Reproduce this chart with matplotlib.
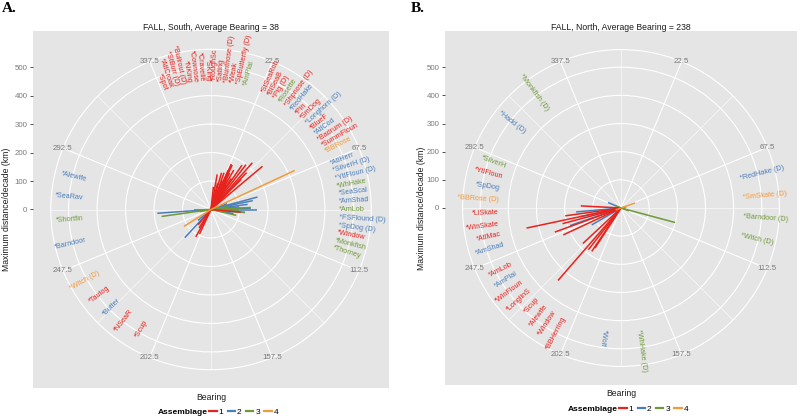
import numpy as np
import matplotlib
matplotlib.use('Agg')
import matplotlib.pyplot as plt
from matplotlib.lines import Line2D

plt.rcParams['font.family'] = ['Liberation Sans', 'DejaVu Sans']

colores = {1: '#E8221C', 2: '#4A7EBB', 3: '#6F9A3A', 4: '#F39A3C'}
gris = '#7A7A7A'
fondo = '#E5E5E5'

# ---------- Panel A: FALL, South ----------
sur_especies = ['*Spot', '*AtlCroak', '*StBurr (D)', '*Bullrout (D)', '*NKing', '*Cownose',
                '*Cravelle', '*SKing', '*RoughSc', '*Sating', '*Bluntnose (D)', '*Weak',
                '*SpButterfly (D)', '*AmPlai',
                '*StSeaRob', '*BlSeaB', '*Pig (D)', '*Rosette', '*Shpnose (D)', '*RedHake',
                '*Pin', '*SmDog', '*Longhorn (D)', '*BlueF', '*AtlCod', '*Badrum (D)',
                '*SummFloun', '*BBRose',
                '*AtlHerr', '*SilverH (D)', '*YtlFloun (D)', '*WhHake', '*SeaScal', '*AmShad',
                '*AmLob', '*FSFlound (D)', '*SpDog (D)', '*Window', '*Monkfish', '*Thorney',
                '*Alewife', '*SeaRav', '*Shortfin', '*Barndoor',
                '*Witch (D)', '*Tautog', '*Butter', '*NSeaR', '*Scup']
sur_pos_etiqueta = [339, 341.8, 344.6, 347.4, 350.2, 353, 355.8, 358.6, 1.4, 4.2, 7, 9.8, 12.6, 15.6,
                    24, 27, 30, 33, 36, 39, 42, 45, 48, 51, 54, 57, 60, 63,
                    69, 72.5, 76, 79.5, 83, 86.5, 90, 93.5, 97, 100.5, 104, 107.5,
                    283.5, 275, 266, 256.5,
                    240.5, 232.5, 225.5, 218, 210]
sur_grupo_etiqueta = [1, 1, 1, 1, 1, 1, 1, 1, 1, 1, 1, 1, 1, 3,
                      1, 1, 1, 3, 1, 2, 1, 1, 2, 1, 2, 1, 1, 4,
                      2, 2, 2, 3, 2, 2, 3, 2, 2, 1, 3, 3,
                      2, 2, 3, 2,
                      4, 1, 2, 1, 1]

sur_rumbo = [10, 16, 19.5, 23.5, 25.5, 27, 24, 41.5, 50, 30, 35, 21, 29, 45, 14, 33, 38,
             209, 213, 205, 95, 220, 6, 18, 31, 44,
             266, 223, 75, 90, 78, 95, 85, 82, 270, 230, 100, 70, 260, 88,
             262, 87, 103, 95, 90, 80, 268,
             65, 238]
sur_distancia = [125, 134, 137, 150, 173, 144, 175, 219, 236, 160, 190, 110, 120, 150, 95, 130, 200,
                 110, 77, 95, 105, 70, 80, 60, 100, 180,
                 189, 135, 169, 160, 150, 120, 100, 130, 60, 60, 80, 60, 40, 140,
                 175, 140, 91, 120, 100, 60, 50,
                 324, 112]
sur_grupo = [1] * 26 + [2] * 14 + [3] * 7 + [4] * 2

# ---------- Panel B: FALL, North ----------
norte_especies = ['*Monkfish (D)', '*Hadd (D)', '*SilverH', '*YtlFloun', '*SpDog', '*BBRose (D)',
                  '*LiSkate', '*WinSkate', '*AtlMac', '*AmShad', '*AmLob', '*AmPlai', '*WinFloun',
                  '*LonglinS', '*Scup', '*Alewife', '*Window', '*BBHerring', '*Wolf', '*WhHake (D)',
                  '*RedHake (D)', '*SmSkate (D)', '*Barndoor (D)', '*Witch (D)']
norte_pos_etiqueta = [323, 308, 290, 284.5, 279, 273.5, 268, 262.5, 257.5, 252.5, 243, 238, 233,
                      228, 222.5, 217.5, 212.5, 207.5, 188, 172, 76, 85, 94, 103]
norte_grupo_etiqueta = [3, 2, 3, 1, 2, 4, 1, 1, 1, 2, 1, 2, 1, 1, 1, 1, 1, 1, 2, 3, 2, 4, 3, 3]

norte_rumbo = [258, 273, 250, 245, 218, 214, 213, 221, 227, 255, 262,
               293, 251, 258, 240, 265, 75,
               105, 290, 80, 260, 110,
               70, 250]
norte_distancia = [343, 143, 250, 226, 188, 186, 170, 341, 185, 215, 200,
                   50, 191, 149, 120, 160, 20,
                   199, 20, 15, 30, 30,
                   53, 20]
norte_grupo = [1] * 11 + [2] * 6 + [3] * 5 + [4] * 2

W, H = 800, 419
R_MAX = 562.5  # radio del circulo exterior (0.45 del panel)

fig = plt.figure(figsize=(W / 100, H / 100), dpi=100)


def caja(x0, y0, x1, y1):
    return [x0 / W, 1 - y1 / H, (x1 - x0) / W, (y1 - y0) / H]


def panel(borde, centro, titulo, letra, especies, pos_etq, grp_etq, rumbo, dist, grp,
          r_etq, y_bearing, y_leyenda, x_ylabel, x_letra):
    x0, y0, x1, y1 = borde
    cx, cy = centro
    R = 0.45 * (x1 - x0)
    kpp = R_MAX / R

    fondo_ax = fig.add_axes(caja(x0, y0, x1, y1))
    fondo_ax.set_facecolor(fondo)
    fondo_ax.set_xlim(-(cx - x0) * kpp, (x1 - cx) * kpp)
    fondo_ax.set_ylim(-(y1 - cy) * kpp, (cy - y0) * kpp)
    fondo_ax.set_xticks([])
    fondo_ax.set_yticks([0, 100, 200, 300, 400, 500])
    fondo_ax.tick_params(axis='y', length=2.5, width=0.6, color='#333333', labelsize=5.7,
                         labelcolor=gris, pad=1.5)
    for s in fondo_ax.spines.values():
        s.set_visible(False)

    ax = fig.add_axes(caja(cx - R, cy - R, cx + R, cy + R), projection='polar')
    ax.set_facecolor('none')
    ax.set_theta_zero_location('N')
    ax.set_theta_direction(-1)
    ax.set_ylim(0, R_MAX)
    ax.set_yticks([100, 200, 300, 400, 500])
    ax.set_yticklabels([])
    ax.set_xticks(np.deg2rad(np.arange(22.5, 360, 45)))
    ax.set_xticklabels([])
    ax.set_xticks(np.deg2rad(np.arange(0, 360, 45)), minor=True)
    ax.tick_params(which='both', length=0)
    ax.grid(which='major', color='white', lw=0.8)
    ax.xaxis.grid(True, which='minor', color='white', lw=0.4)
    ax.spines['polar'].set_color('white')
    ax.spines['polar'].set_linewidth(0.8)

    for ang in np.arange(22.5, 360, 45):
        ax.text(np.deg2rad(ang), R_MAX, f'{ang}', ha='center', va='center',
                fontsize=5.7, color=gris)

    for g in [2, 3, 1, 4]:
        for b, d, gg in zip(rumbo, dist, grp):
            if gg == g:
                t = np.deg2rad(b)
                ax.plot([t, t], [0, d], color=colores[g], lw=1.1, solid_capstyle='butt')

    for nombre, b, g in zip(especies, pos_etq, grp_etq):
        if 195 < b < 360:
            rot, ha = 270 - b, 'right'
        else:
            rot, ha = 90 - b, 'left'
        ax.text(np.deg2rad(b), r_etq, nombre, rotation=rot, rotation_mode='anchor',
                ha=ha, va='center', fontsize=5.2, color=colores[g])

    fig.text(cx / W, 1 - 27 / H, titulo, ha='center', va='center', fontsize=6.2, color='#1A1A1A')
    fig.text(x_letra / W, 1 - 9 / H, letra, ha='left', va='center', fontsize=11,
             fontweight='bold', family=['Liberation Serif', 'DejaVu Serif'])
    fig.text(x_ylabel / W, 1 - cy / H, 'Maximum distance/decade (km)', rotation=90,
             ha='center', va='center', fontsize=6.2, color='#1A1A1A')
    fig.text(cx / W, 1 - y_bearing / H, 'Bearing', ha='center', va='center', fontsize=6.2,
             color='#1A1A1A')

    fig.text((cx - 3) / W, 1 - y_leyenda / H, 'Assemblage', ha='right', va='center',
             fontsize=6, fontweight='bold')
    manijas = [Line2D([0], [0], color=colores[k], lw=1.6) for k in [1, 2, 3, 4]]
    fig.legend(manijas, ['1', '2', '3', '4'], ncol=4, loc='center left',
               bbox_to_anchor=((cx - 2) / W, 1 - y_leyenda / H), frameon=False, fontsize=6,
               handlelength=0.9, handletextpad=0.25, columnspacing=0.5,
               borderpad=0, borderaxespad=0)


panel((33, 31, 389, 388), (211, 209.5), 'FALL, South, Average Bearing = 38', 'A.',
      sur_especies, sur_pos_etiqueta, sur_grupo_etiqueta,
      sur_rumbo, sur_distancia, sur_grupo, 450, 397, 412, 7, 2)
panel((445, 31, 797, 385), (621, 208), 'FALL, North, Average Bearing = 238', 'B.',
      norte_especies, norte_pos_etiqueta, norte_grupo_etiqueta,
      norte_rumbo, norte_distancia, norte_grupo, 435, 393, 409, 421, 411)

plt.savefig('out.png', dpi=100)
